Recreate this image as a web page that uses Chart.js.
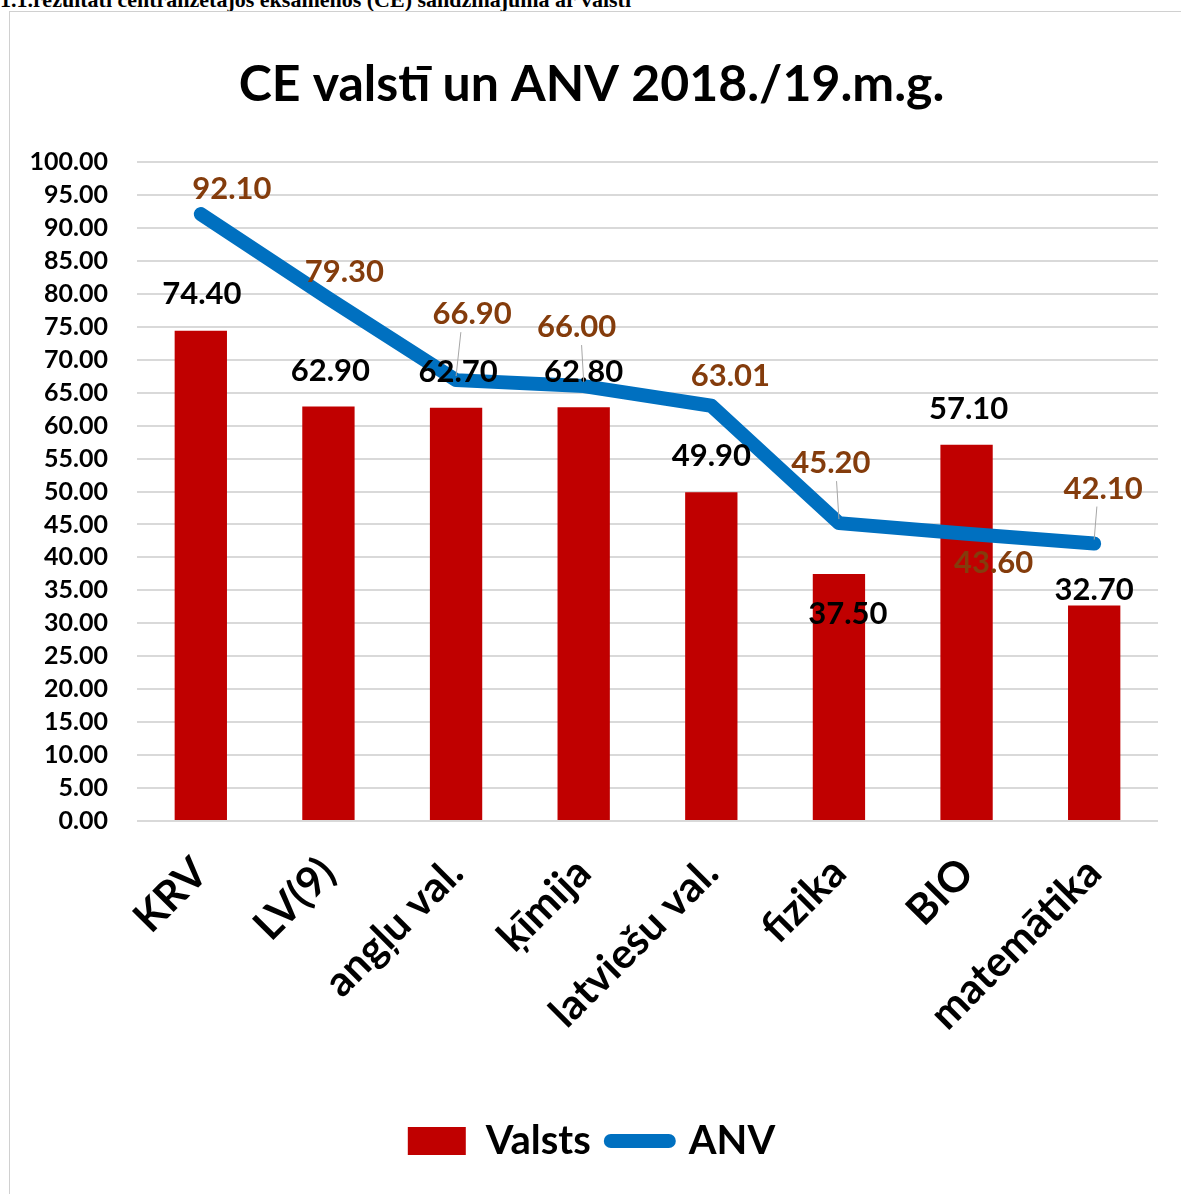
<!DOCTYPE html>
<html>
<head>
<meta charset="utf-8">
<script src="https://cdn.jsdelivr.net/npm/chart.js@4.4.1/dist/chart.umd.min.js"></script>
<style>
  body { margin: 0; background: #fff; width: 1181px; height: 1194px; overflow: hidden; position: relative; }
  #heading { position: absolute; left: 0; top: -11px; font: bold 22px "Liberation Serif", serif; line-height: 22px; white-space: nowrap; color: #000; }
  #frame { position: absolute; left: 9px; top: 11px; width: 1200px; height: 1200px; border: 1px solid #d0d0d0; }
  #chart { position: absolute; left: 0; top: 0; }
</style>
</head>
<body>
<div id="heading">1.1.rezultāti centralizētajos eksāmenos (CE) salīdzinājumā ar valsti</div>
<div id="frame"></div>
<canvas id="chart" width="1181" height="1194"></canvas>
<script>
// kategorijas un vērtības
var kategorijas = ["KRV", "LV(9)", "angļu val.", "ķīmija", "latviešu val.", "fizika", "BIO", "matemātika"];
var valsts = [74.40, 62.90, 62.70, 62.80, 49.90, 37.50, 57.10, 32.70];
var anv = [92.10, 79.30, 66.90, 66.00, 63.01, 45.20, 43.60, 42.10];

// label offsets (px) relative to bar top / line point, like excel moved them
var valstsNobide = [[1,-37],[2,-35],[2,-36],[0,-35],[0,-36],[9,40],[2,-36],[0,-16]];
var anvNobide = [[31,-25],[16,-26],[16,-66],[-7,-59],[19,-30],[-8,-60],[27,29],[9,-55]];

var fonts = 'Lato, "Noto Sans", sans-serif';

var etiketes = {
  id: 'etiketes',
  afterDatasetsDraw: function(chart) {
    var ctx = chart.ctx;
    ctx.save();
    ctx.font = 'bold 31px ' + fonts;
    ctx.textAlign = 'center';
    ctx.textBaseline = 'middle';

    var m0 = chart.getDatasetMeta(0);
    m0.data.forEach(function(el, i) {
      var x = el.x + valstsNobide[i][0];
      var y = el.y + valstsNobide[i][1];
      ctx.fillStyle = '#000';
      ctx.fillText(valsts[i].toFixed(2), x, y);
    });

    var m1 = chart.getDatasetMeta(1);
    m1.data.forEach(function(el, i) {
      var dx = anvNobide[i][0], dy = anvNobide[i][1];
      if (Math.abs(dy) > 45) {
        // leader line
        ctx.strokeStyle = '#a6a6a6';
        ctx.lineWidth = 1;
        ctx.beginPath();
        ctx.moveTo(el.x + dx * 0.3, el.y + dy + 18);
        ctx.lineTo(el.x, el.y - 4);
        ctx.stroke();
      }
      ctx.fillStyle = '#843c0c';
      ctx.fillText(anv[i].toFixed(2), el.x + dx, el.y + dy);
    });
    ctx.restore();
  }
};

var ctx = document.getElementById('chart').getContext('2d');
var chart = new Chart(ctx, {
  type: 'bar',
  data: {
    labels: kategorijas,
    datasets: [
      {
        label: 'Valsts',
        data: valsts,
        backgroundColor: '#c00000',
        barPercentage: 0.41,
        categoryPercentage: 1,
        order: 2
      },
      {
        type: 'line',
        label: 'ANV',
        data: anv,
        borderColor: '#0070c0',
        backgroundColor: '#0070c0',
        borderWidth: 14,
        borderJoinStyle: 'round',
        borderCapStyle: 'round',
        pointRadius: 0,
        tension: 0,
        fill: false,
        order: 1
      }
    ]
  },
  options: {
    responsive: false,
    animation: false,
    layout: { padding: { left: 25, right: 23, top: 0, bottom: 23 } },
    plugins: {
      title: {
        display: true,
        text: 'CE valstī un ANV 2018./19.m.g.',
        color: '#000',
        font: { family: fonts, size: 50, weight: 'bold' },
        padding: { top: 55, bottom: 47 }
      },
      legend: {
        position: 'bottom',
        labels: {
          color: '#000',
          font: { family: fonts, size: 40, weight: 'bold' },
          usePointStyle: true,
          pointStyleWidth: 58,
          boxHeight: 28,
          padding: 20,
          generateLabels: function(c) {
            return [
              { text: 'Valsts', fillStyle: '#c00000', strokeStyle: '#c00000', lineWidth: 0, pointStyle: 'rect', datasetIndex: 0, fontColor: '#000' },
              { text: 'ANV', fillStyle: '#0070c0', strokeStyle: '#0070c0', lineWidth: 14, lineCap: 'round', pointStyle: 'line', datasetIndex: 1, fontColor: '#000' }
            ];
          }
        }
      },
      tooltip: { enabled: false }
    },
    scales: {
      x: {
        grid: { display: false },
        border: { display: false },
        ticks: {
          color: '#000',
          font: { family: fonts, size: 42, weight: 'bold' },
          minRotation: 45,
          maxRotation: 45,
          autoSkip: false,
          padding: 19
        },
        afterFit: function(s) { s.height = 280; }
      },
      y: {
        min: 0,
        max: 100,
        border: { display: false },
        grid: { color: '#d9d9d9', lineWidth: 2, drawTicks: false },
        ticks: {
          stepSize: 5,
          autoSkip: false,
          color: '#000',
          font: { family: fonts, size: 25, weight: 'bold' },
          padding: 29,
          callback: function(v) { return v.toFixed(2); }
        },
        afterFit: function(s) { s.width = 112; }
      }
    }
  },
  plugins: [etiketes]
});
</script>
</body>
</html>
